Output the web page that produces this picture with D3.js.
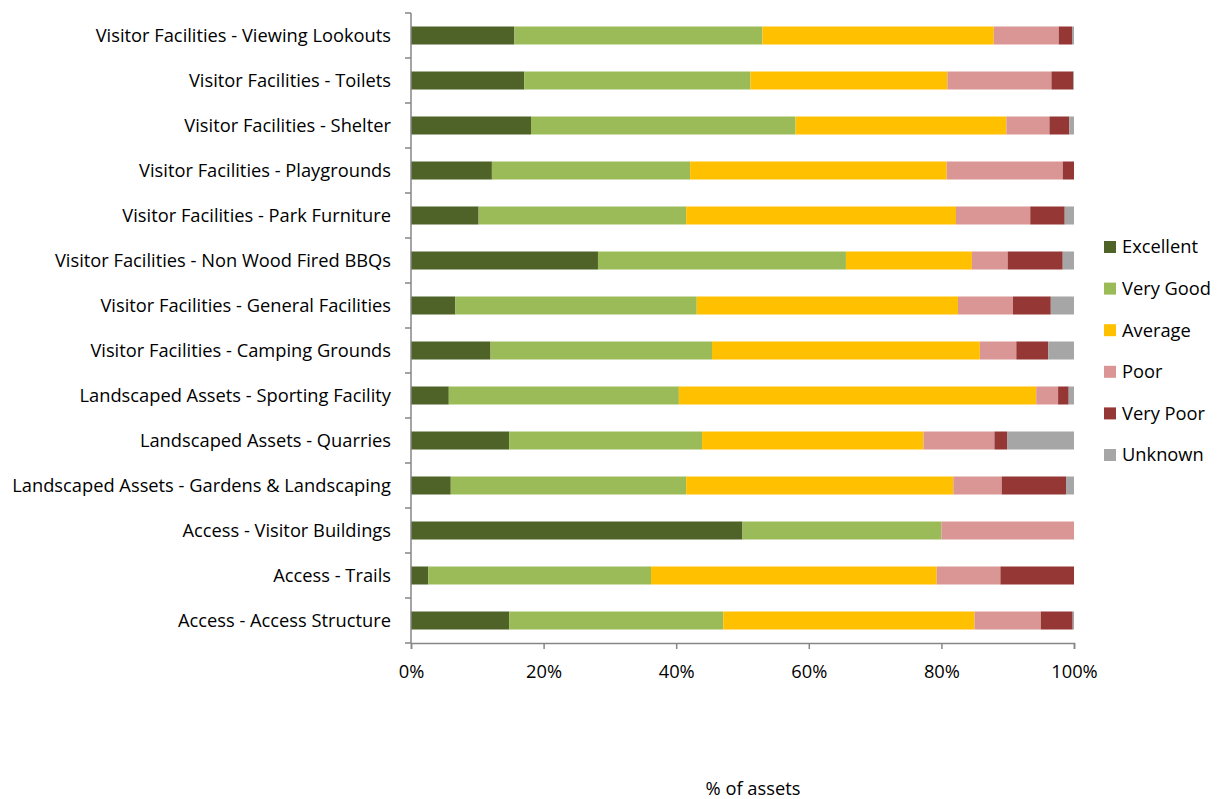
<!DOCTYPE html>
<html>
<head>
<meta charset="utf-8">
<script src="https://cdn.jsdelivr.net/npm/d3@7"></script>
<style>
  body { margin: 0; background: #fff; }
  svg text { font-family: "Open Sans", sans-serif; fill: #000; }
</style>
</head>
<body>
<svg id="chart" width="1220" height="799"></svg>
<script>
// categories, top to bottom
const categories = [
  'Visitor Facilities - Viewing Lookouts',
  'Visitor Facilities - Toilets',
  'Visitor Facilities - Shelter',
  'Visitor Facilities - Playgrounds',
  'Visitor Facilities - Park Furniture',
  'Visitor Facilities - Non Wood Fired BBQs',
  'Visitor Facilities - General Facilities',
  'Visitor Facilities - Camping Grounds',
  'Landscaped Assets - Sporting Facility',
  'Landscaped Assets - Quarries',
  'Landscaped Assets - Gardens & Landscaping',
  'Access - Visitor Buildings',
  'Access - Trails',
  'Access - Access Structure'
];

const seriesNames = ['Excellent', 'Very Good', 'Average', 'Poor', 'Very Poor', 'Unknown'];
const colors = ['#4f6228', '#9bbb59', '#ffc000', '#d99694', '#953735', '#a6a6a6'];

// % of assets per condition, same order as categories
const excellent = [15.6, 17.1, 18.1, 12.2, 10.2, 28.2, 6.7, 12.0, 5.7, 14.8, 6.0, 50.0, 2.6, 14.8];
const veryGood  = [37.4, 34.1, 39.9, 29.9, 31.3, 37.4, 36.4, 33.4, 34.7, 29.1, 35.5, 30.0, 33.6, 32.3];
const average   = [34.9, 29.7, 31.8, 38.7, 40.7, 19.0, 39.4, 40.4, 53.9, 33.4, 40.3, 0, 43.1, 37.9];
const poor      = [9.8, 15.7, 6.5, 17.5, 11.2, 5.4, 8.3, 5.5, 3.3, 10.7, 7.3, 20.0, 9.6, 10.0];
const veryPoor  = [2.0, 3.3, 3.0, 1.7, 5.2, 8.3, 5.7, 4.8, 1.6, 1.9, 9.7, 0, 11.1, 4.8];
const unknown   = [0.3, 0.1, 0.7, 0, 1.4, 1.7, 3.5, 3.9, 0.8, 10.1, 1.2, 0, 0, 0.2];

const xTicks = [0, 20, 40, 60, 80, 100];

const svg = d3.select('#chart');
const margin = { left: 411, right: 146, top: 13, bottom: 156 };
const width = 1220 - margin.left - margin.right;
const height = 799 - margin.top - margin.bottom;
const fontSize = '18.3px';

const rows = categories.map((c, i) => ({
  cat: c,
  Excellent: excellent[i],
  'Very Good': veryGood[i],
  Average: average[i],
  Poor: poor[i],
  'Very Poor': veryPoor[i],
  Unknown: unknown[i]
}));

const stack = d3.stack().keys(seriesNames);
const layers = stack(rows);

const x = d3.scaleLinear().domain([0, 100]).range([0, width]);
const y = d3.scaleBand().domain(categories).range([0, height]).paddingInner(0.6).paddingOuter(0.3);
const color = d3.scaleOrdinal().domain(seriesNames).range(colors);

const g = svg.append('g').attr('transform', `translate(${margin.left},${margin.top})`);

// bars
g.selectAll('g.layer')
  .data(layers)
  .join('g')
  .attr('class', 'layer')
  .attr('fill', d => color(d.key))
  .selectAll('rect')
  .data(d => d)
  .join('rect')
  .attr('x', d => x(d[0]))
  .attr('y', d => y(d.data.cat))
  .attr('width', d => x(d[1]) - x(d[0]))
  .attr('height', y.bandwidth());

// y axis line + ticks at category boundaries
const step = y.step();
g.append('line')
  .attr('x1', 0).attr('x2', 0)
  .attr('y1', 0).attr('y2', height)
  .attr('stroke', '#868686').attr('stroke-width', 1.5);
d3.range(categories.length + 1).forEach(i => {
  g.append('line')
    .attr('x1', -6).attr('x2', 0)
    .attr('y1', i * step).attr('y2', i * step)
    .attr('stroke', '#868686').attr('stroke-width', 1.5);
});

// category labels
g.selectAll('text.cat')
  .data(categories)
  .join('text')
  .attr('class', 'cat')
  .attr('x', -20)
  .attr('y', d => y(d) + y.bandwidth() / 2)
  .attr('dy', '0.35em')
  .attr('text-anchor', 'end')
  .style('font-size', fontSize)
  .text(d => d);

// x axis
const xAxis = g.append('g')
  .attr('transform', `translate(0,${height})`)
  .call(d3.axisBottom(x).tickValues(xTicks).tickFormat(d => d + '%').tickSize(6).tickPadding(16));
xAxis.select('.domain').attr('stroke', '#868686').attr('stroke-width', 1.5);
xAxis.selectAll('.tick line').attr('stroke', '#868686').attr('stroke-width', 1.5);
xAxis.selectAll('.tick text').style('font-size', fontSize).style('font-family', '"Open Sans", sans-serif');

// axis title
svg.append('text')
  .attr('x', 753)
  .attr('y', 789)
  .attr('dy', '0.35em')
  .attr('text-anchor', 'middle')
  .style('font-size', fontSize)
  .text('% of assets');

// legend
const legend = svg.append('g').attr('transform', 'translate(1104,247)');
const li = legend.selectAll('g')
  .data(seriesNames)
  .join('g')
  .attr('transform', (d, i) => `translate(0,${i * 41.6})`);
li.append('rect')
  .attr('x', 0).attr('y', -6)
  .attr('width', 12).attr('height', 12)
  .attr('fill', d => color(d));
li.append('text')
  .attr('x', 18)
  .attr('dy', '0.35em')
  .style('font-size', fontSize)
  .text(d => d);
</script>
</body>
</html>
